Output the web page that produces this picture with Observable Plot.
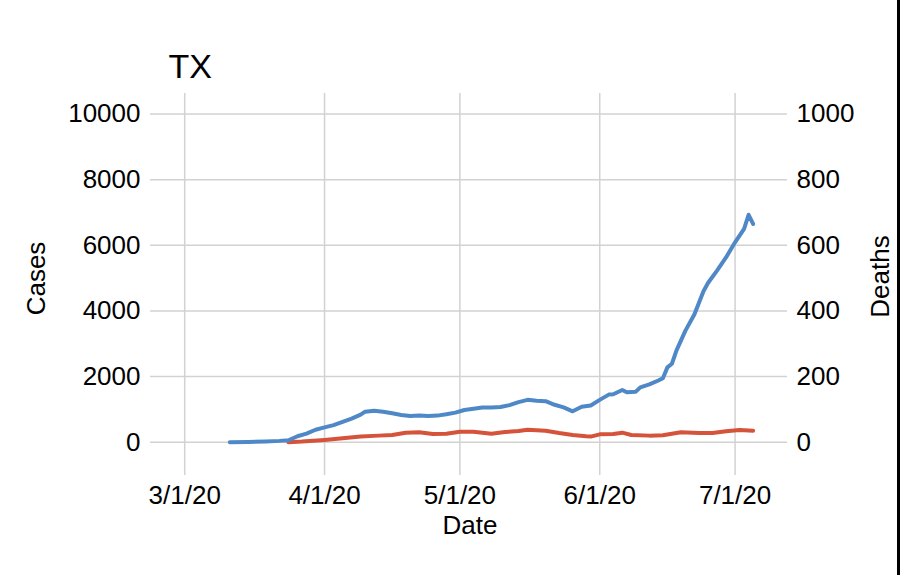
<!DOCTYPE html>
<html>
<head>
<meta charset="utf-8">
<script src="https://cdn.jsdelivr.net/npm/d3@7"></script>
<script src="https://cdn.jsdelivr.net/npm/@observablehq/plot@0.6"></script>
<style>
  html, body { margin: 0; padding: 0; background: #fff; }
  #wrap { position: relative; width: 900px; height: 575px; overflow: hidden; }
  #edge { position: absolute; right: 0; top: 0; width: 3px; height: 575px; background: #000; }
  svg { display: block; font-family: "Liberation Sans", Arial, Helvetica, sans-serif; }
</style>
</head>
<body>
<div id="wrap"><div id="chart"></div><div id="edge"></div></div>
<script>
// ---- data ----
const title = "TX";
const caseDates = [
  "2020-03-11","2020-03-15","2020-03-19","2020-03-22","2020-03-24","2020-03-26","2020-03-28","2020-03-30",
  "2020-04-01","2020-04-03","2020-04-05","2020-04-07","2020-04-09","2020-04-10","2020-04-12","2020-04-14",
  "2020-04-16","2020-04-18","2020-04-20","2020-04-22","2020-04-24","2020-04-26","2020-04-28","2020-04-30",
  "2020-05-02","2020-05-04","2020-05-06","2020-05-08","2020-05-10","2020-05-12","2020-05-14","2020-05-16",
  "2020-05-18","2020-05-20","2020-05-22","2020-05-24","2020-05-26","2020-05-28","2020-05-30","2020-06-01",
  "2020-06-03","2020-06-04","2020-06-06","2020-06-07","2020-06-09","2020-06-10","2020-06-12","2020-06-14",
  "2020-06-15","2020-06-16","2020-06-17","2020-06-18","2020-06-20","2020-06-22","2020-06-24","2020-06-25",
  "2020-06-27","2020-06-29","2020-07-01","2020-07-03","2020-07-04","2020-07-05"
];
const caseValues = [
  0, 5, 20, 40, 60, 180, 260, 380,
  450, 520, 620, 720, 840, 930, 960, 930,
  880, 830, 800, 810, 800, 810, 850, 900,
  980, 1020, 1060, 1060, 1070, 1130, 1220, 1290,
  1260, 1250, 1140, 1060, 940, 1080, 1120, 1290,
  1450, 1460, 1590, 1520, 1540, 1670, 1760, 1880,
  1950, 2280, 2390, 2790, 3400, 3900, 4600, 4850,
  5230, 5630, 6090, 6500, 6930, 6650
];
const deathDates = [
  "2020-03-24","2020-03-27","2020-04-01","2020-04-05","2020-04-09","2020-04-13","2020-04-16","2020-04-19",
  "2020-04-22","2020-04-25","2020-04-28","2020-05-01","2020-05-04","2020-05-08","2020-05-11","2020-05-14",
  "2020-05-16","2020-05-20","2020-05-23","2020-05-26","2020-05-29","2020-05-30","2020-06-01","2020-06-04",
  "2020-06-06","2020-06-08","2020-06-12","2020-06-15","2020-06-19","2020-06-23","2020-06-26","2020-06-29",
  "2020-07-02","2020-07-05"
];
const deathValues = [
  0, 2, 7, 12, 17, 20, 22, 29,
  30, 25, 26, 32, 32, 26, 31, 34,
  38, 35, 28, 22, 18, 17, 24, 25,
  29, 22, 20, 21, 30, 28, 28, 33,
  37, 35
];
const monthTicks = ["2020-03-01","2020-04-01","2020-05-01","2020-06-01","2020-07-01"];
const caseTicks = [0, 2000, 4000, 6000, 8000, 10000];
const xLabel = "Date", leftLabel = "Cases", rightLabel = "Deaths";

// ---- build ----
const parse = s => new Date(s + "T00:00:00Z");
const cases = caseDates.map((d, i) => ({date: parse(d), value: caseValues[i]}));
const deaths = deathDates.map((d, i) => ({date: parse(d), value: deathValues[i]}));
const ticksX = monthTicks.map(parse);
const fmtDate = d => `${d.getUTCMonth() + 1}/${d.getUTCDate()}/${String(d.getUTCFullYear()).slice(2)}`;
const ratio = 10; // deaths axis = cases axis / 10

const font = "Liberation Sans, Arial, Helvetica, sans-serif";
const chart = Plot.plot({
  width: 900,
  height: 575,
  marginTop: 93,
  marginLeft: 150,
  marginRight: 113,
  marginBottom: 100,
  style: {fontFamily: font, color: "#000", background: "#fff"},
  x: {type: "utc", domain: [new Date(Date.UTC(2020, 1, 22, 10)), new Date(Date.UTC(2020, 6, 12, 15))]},
  y: {domain: [-1015, 10625]},
  marks: [
    Plot.gridY({ticks: caseTicks, stroke: "#d2d2d2", strokeOpacity: 1, strokeWidth: 1.5}),
    Plot.gridX({ticks: ticksX, stroke: "#d2d2d2", strokeOpacity: 1, strokeWidth: 1.5}),
    Plot.axisX({ticks: ticksX, tickFormat: fmtDate, tickSize: 0, tickPadding: 10, fontSize: 26, label: null}),
    Plot.axisY({ticks: caseTicks, tickSize: 0, tickPadding: 10, fontSize: 26, label: null, tickFormat: d => String(d)}),
    Plot.axisY({anchor: "right", ticks: caseTicks, tickSize: 0, tickPadding: 9, fontSize: 26, label: null, tickFormat: d => String(d / ratio)}),
    Plot.line(deaths, {x: "date", y: d => d.value * ratio, stroke: "#d4533a", strokeWidth: 4, curve: "linear"}),
    Plot.line(cases, {x: "date", y: "value", stroke: "#4f88c6", strokeWidth: 4, curve: "linear"}),
    Plot.text([title], {frameAnchor: "top-left", textAnchor: "start", lineAnchor: "bottom", dx: 18, dy: -16, fontSize: 34, fill: "#000"}),
    Plot.text([leftLabel], {frameAnchor: "left", rotate: -90, textAnchor: "middle", lineAnchor: "top", dx: -124, dy: -6, fontSize: 26, fill: "#000"}),
    Plot.text([rightLabel], {frameAnchor: "right", rotate: -90, textAnchor: "middle", lineAnchor: "bottom", dx: 101, dy: -8, fontSize: 26, fill: "#000"}),
    Plot.text([xLabel], {frameAnchor: "bottom", textAnchor: "middle", lineAnchor: "bottom", dx: 1, dy: 58, fontSize: 26, fill: "#000"})
  ]
});
document.getElementById("chart").appendChild(chart);
</script>
</body>
</html>
